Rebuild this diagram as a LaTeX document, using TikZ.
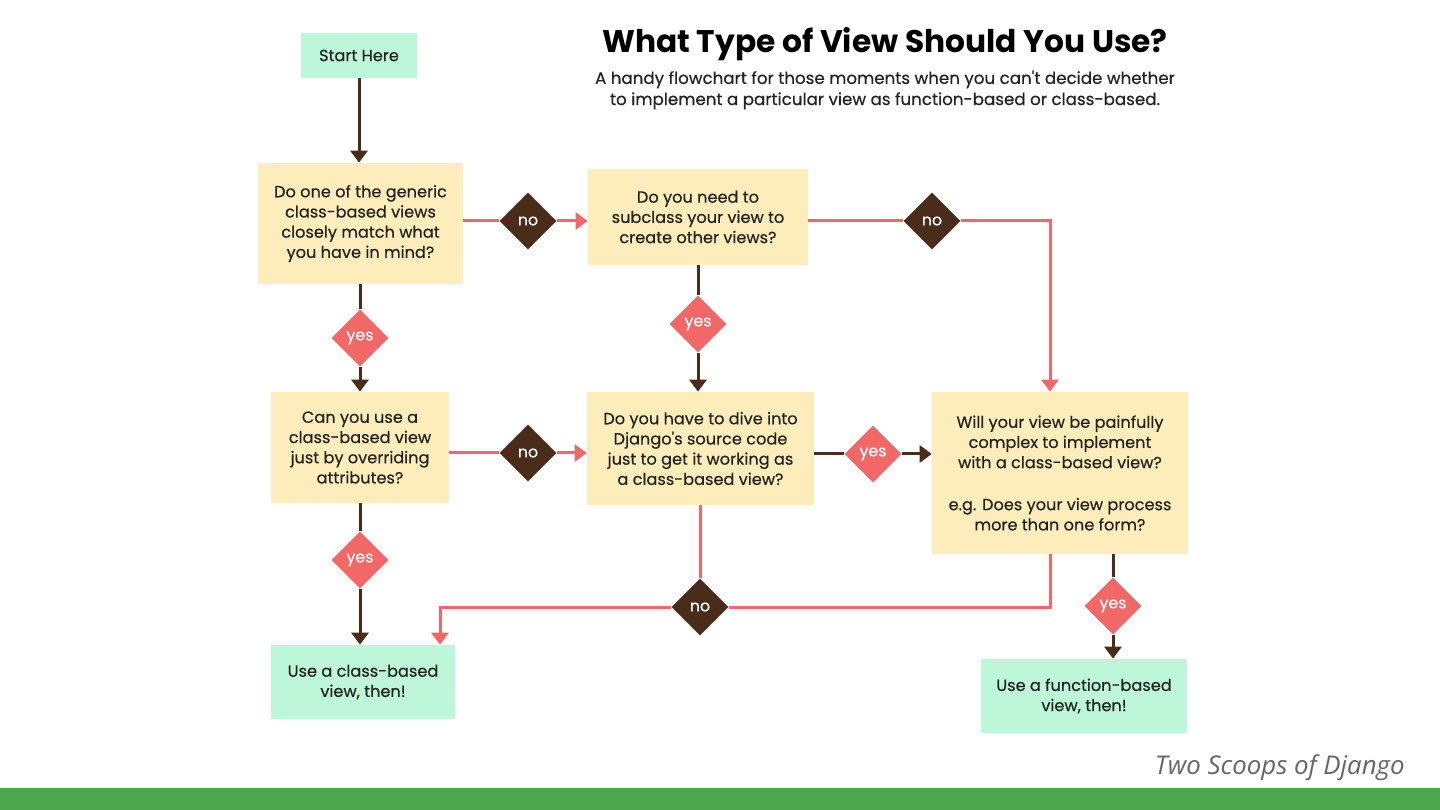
\documentclass[tikz,border=0pt]{standalone}
\usepackage{fontspec}
\setmainfont{Poppins}
\newfontfamily\medfont{Poppins}[FakeBold=0.35]
\newfontfamily\footfont{Open Sans}
\usepackage{tikz}
\usetikzlibrary{positioning}
\usetikzlibrary{shapes,arrows,calc,arrows.meta}

\definecolor{creamfill}{HTML}{FDEDBA}
\definecolor{mintfill}{HTML}{BDF6D9}
\definecolor{coral}{HTML}{F26866}
\definecolor{darkbrown}{HTML}{4A2C1A}
\definecolor{txt}{HTML}{222222}
\definecolor{slidegreen}{HTML}{4CA64C}

\tikzset{
  question/.style={rectangle, fill=creamfill, align=center, text=txt,
    font=\medfont\fontsize{9.2}{11.5}\selectfont, inner sep=2pt},
  answer/.style={rectangle, fill=mintfill, align=center, text=txt,
    font=\medfont\fontsize{9.2}{11.5}\selectfont, inner sep=2pt},
  yesdia/.style={diamond, fill=coral, text=white, inner sep=0pt,
    minimum width=1.14cm, minimum height=1.14cm, font=\medfont\fontsize{9}{10}\selectfont},
  nodia/.style={diamond, fill=darkbrown, text=white, inner sep=0pt,
    minimum width=1.14cm, minimum height=1.14cm, font=\medfont\fontsize{9}{10}\selectfont},
  yesline/.style={draw=darkbrown, line width=0.06cm,
    -{Triangle[width=0.34cm,length=0.24cm]}},
  noline/.style={draw=coral, line width=0.06cm,
    -{Triangle[width=0.34cm,length=0.24cm]}},
  plainyes/.style={draw=darkbrown, line width=0.06cm},
  plainno/.style={draw=coral, line width=0.06cm}
}

\begin{document}
\begin{tikzpicture}[x=0.02cm, y=-0.02cm]
    \useasboundingbox (0,0) rectangle (1440,810);
    \fill[white] (0,0) rectangle (1440,810);

    % Title
    \node [text=black, font=\fontsize{17.8}{20}\selectfont\bfseries] (title) at (885,44)
      {What Type of View Should You Use?};
    \node [text=txt, align=center, font=\medfont\fontsize{9.5}{12}\selectfont] (subtitle) at (885,90)
      {A handy flowchart for those moments when you can't decide whether\\
       to implement a particular view as function-based or class-based.};

    % Nodes
    \node [answer, minimum width=2.32cm, minimum height=0.9cm] (start) at (359,55.5) {Start Here};
    \node [question, minimum width=4.1cm, minimum height=2.42cm] (generic) at (360.5,223.5)
      {Do one of the generic\\ class-based views\\ closely match what\\ you have in mind?};
    \node [question, minimum width=4.4cm, minimum height=1.92cm] (subclass) at (698,217)
      {Do you need to\\ subclass your view to\\ create other views?};
    \node [question, minimum width=3.56cm, minimum height=2.22cm] (override) at (360,447.5)
      {Can you use a\\ class-based view\\ just by overriding\\ attributes?};
    \node [question, minimum width=4.54cm, minimum height=2.26cm] (dive) at (700.5,448.5)
      {Do you have to dive into\\ Django's source code\\ just to get it working as\\ a class-based view?};
    \node [question, minimum width=5.12cm, minimum height=3.24cm] (complex) at (1060,473)
      {Will your view be painfully\\ complex to implement\\ with a class-based view?\\[1.35em]
       e.g. Does your view process\\ more than one form?};
    \node [answer, minimum width=3.68cm, minimum height=1.48cm] (cbv) at (363,682)
      {Use a class-based\\ view, then!};
    \node [answer, minimum width=4.12cm, minimum height=1.48cm] (fbv) at (1084,696)
      {Use a function-based\\ view, then!};

    % Decisions
    \node [nodia] (no1) at (528,221) {no};
    \node [nodia] (no2) at (932,221) {no};
    \node [nodia] (no3) at (528,453) {no};
    \node [nodia] (no4) at (700,607) {no};
    \node [yesdia] (yes1) at (360,338) {yes};
    \node [yesdia] (yes2) at (698,324) {yes};
    \node [yesdia] (yes3) at (873,454) {yes};
    \node [yesdia] (yes4) at (360,560) {yes};
    \node [yesdia] (yes5) at (1113,606) {yes};

    \coordinate (turn1) at (1050,221);
    \coordinate (turn2) at (1050,607);
    \coordinate (turn3) at (440,607);

    % Arrows
    \draw [yesline] (start.south) -- (start.south |- generic.north);
    \draw [plainno] (generic.east |- no1) -- (no1.west);
    \draw [noline] (no1.east) -- (subclass.west |- no1);
    \draw [plainno] (subclass.east |- no2) -- (no2.west);
    \draw [noline] (no2.east) -- (turn1) -- (turn1 |- complex.north);
    \draw [plainyes] (yes1 |- generic.south) -- (yes1.north);
    \draw [yesline] (yes1.south) -- (yes1 |- override.north);
    \draw [plainyes] (yes2 |- subclass.south) -- (yes2.north);
    \draw [yesline] (yes2.south) -- (yes2 |- dive.north);
    \draw [plainno] (override.east |- no3) -- (no3.west);
    \draw [noline] (no3.east) -- (dive.west |- no3);
    \draw [plainyes] (dive.east |- yes3) -- (yes3.west);
    \draw [yesline] (yes3.east) -- (complex.west |- yes3);
    \draw [plainyes] (yes4 |- override.south) -- (yes4.north);
    \draw [yesline] (yes4.south) -- (yes4 |- cbv.north);
    \draw [plainno] (no4 |- dive.south) -- (no4.north);
    \draw [plainno] (turn2 |- complex.south) -- (turn2) -- (no4.east);
    \draw [noline] (no4.west) -- (turn3) -- (turn3 |- cbv.north);
    \draw [plainyes] (yes5 |- complex.south) -- (yes5.north);
    \draw [yesline] (yes5.south) -- (yes5 |- fbv.north);

    % Footer
    \node [anchor=east, inner sep=0pt, text=black!60, font=\footfont\itshape\fontsize{14.7}{18}\selectfont] (credit)
      at (1405,768) {Two Scoops of Django};
    \fill [slidegreen] (0,788) rectangle (1440,810);
\end{tikzpicture}
\end{document}
